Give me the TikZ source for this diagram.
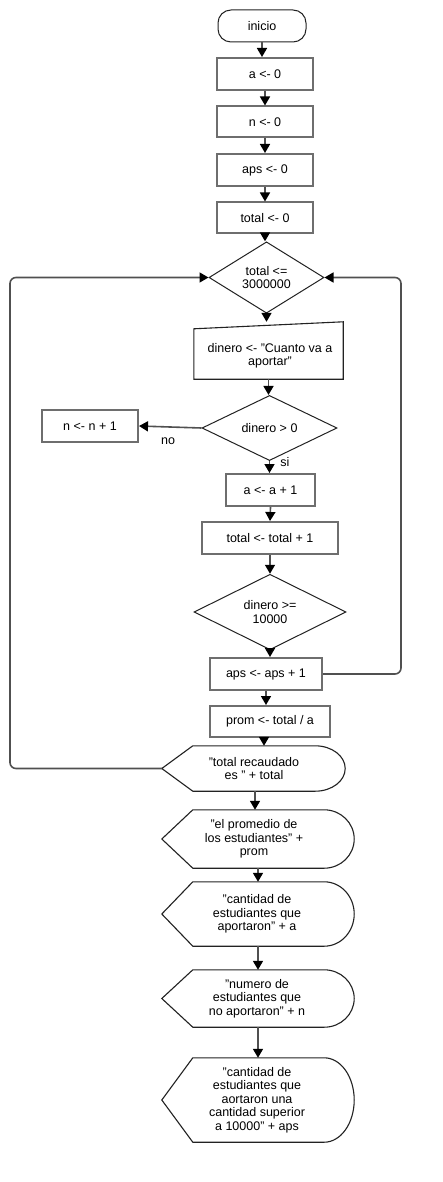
\documentclass[tikz,border=0pt]{standalone}
\usepackage{fontspec}
\setmainfont{Liberation Sans}
\usetikzlibrary{shapes.geometric,arrows.meta,calc}
\definecolor{boxgray}{HTML}{6E6E6E}
\definecolor{linegray}{HTML}{505050}
\definecolor{shapeline}{HTML}{222222}
\tikzset{
  txt/.style={font=\fontsize{12.5}{13.5}\selectfont, align=center, text=black},
  proc/.style={txt, rectangle, draw=boxgray, line width=2pt, inner sep=0pt},
  term/.style={txt, rectangle, rounded corners=13pt, draw=shapeline, line width=1pt, inner sep=0pt},
  dec/.style={txt, diamond, draw=shapeline, line width=1pt, inner sep=0pt},
  free/.style={txt, rectangle, draw=none, inner sep=0pt},
  shp/.style={draw=shapeline, line width=1.1pt},
  flow/.style={draw=linegray, line width=1.6pt, -{Triangle[length=9pt,width=10pt,color=black]}},
  loopline/.style={flow, rounded corners=6pt},
  lbl/.style={font=\fontsize{12.5}{13.5}\selectfont, text=black, inner sep=0pt}
}
\newcommand{\dispshape}[1]{%
  \draw[shp] (#1.west) -- ([xshift=31pt]#1.north west) -- ([xshift=-30pt]#1.north east)
    .. controls ([xshift=-13.4pt]#1.north east) and ($(#1.east)!0.552!(#1.north east)$) .. (#1.east)
    .. controls ($(#1.east)!0.552!(#1.south east)$) and ([xshift=-13.4pt]#1.south east) .. ([xshift=-30pt]#1.south east)
    -- ([xshift=31pt]#1.south west) -- cycle;}
\begin{document}
\begin{tikzpicture}[x=1pt,y=-1pt]
\useasboundingbox[fill=white] (0,0) rectangle (443,1182);
% initial sequence
\node[term, minimum width=88pt, minimum height=32pt] (inicio) at (262,26) {inicio};
\node[proc, minimum width=96pt, minimum height=32pt] (a0) at (265,74) {a <- 0};
\node[proc, minimum width=96pt, minimum height=31pt] (n0) at (265,122) {n <- 0};
\node[proc, minimum width=96pt, minimum height=32pt] (aps0) at (265,170) {aps <- 0};
\node[proc, minimum width=96pt, minimum height=31pt] (tot0) at (265,218) {total <- 0};
% loop
\node[dec, minimum width=115pt, minimum height=55pt] (d1) at (266.5,277.5) {total <=\\3000000};
\node[free, minimum width=149pt, minimum height=57pt] (in1) at (268.5,350.5) {};
\draw[shp] ([yshift=-7pt]in1.north west) -- (in1.north east) -- (in1.south east) -- (in1.south west) -- cycle;
\node[txt] at (270,356) {dinero <- "Cuanto va a\\aportar"};
\node[dec, minimum width=135pt, minimum height=50pt] (d2) at (269.5,428) {dinero > 0};
\node[proc, minimum width=96pt, minimum height=32pt] (nn) at (90,426) {n <- n + 1};
\node[proc, minimum width=89pt, minimum height=32pt] (aa) at (270.5,490) {a <- a + 1};
\node[proc, minimum width=136pt, minimum height=32pt] (tt) at (270,538) {total <- total + 1};
\node[dec, minimum width=152pt, minimum height=50pt] (d3) at (270,612) {dinero >=\\10000};
\node[proc, minimum width=112pt, minimum height=32pt] (aps1) at (266,674) {aps <- aps + 1};
\node[proc, minimum width=120pt, minimum height=31pt] (prom) at (270,721.5) {prom <- total / a};
% outputs
\node[free, minimum width=183pt, minimum height=45pt] (o1) at (253.5,768.5) {};
\dispshape{o1}
\node[txt] at (254,768.5) {"total recaudado\\es " + total};
\node[free, minimum width=192pt, minimum height=58pt] (o2) at (258,839) {};
\dispshape{o2}
\node[txt] at (254,839) {"el promedio de\\los estudiantes" +\\prom};
\node[free, minimum width=192pt, minimum height=64pt] (o3) at (258,914) {};
\dispshape{o3}
\node[txt] at (257,914) {"cantidad de\\estudiantes que\\aportaron" + a};
\node[free, minimum width=192pt, minimum height=57pt] (o4) at (258,998.5) {};
\dispshape{o4}
\node[txt] at (257,998.5) {"numero de\\estudiantes que\\no aportaron" + n};
\node[free, minimum width=192pt, minimum height=84pt] (o5) at (258,1100) {};
\dispshape{o5}
\node[txt] at (257,1100) {"cantidad de\\estudiantes que\\aortaron una\\cantidad superior\\a 10000" + aps};
% connectors
\draw[flow] (inicio.south) -- (inicio.south |- a0.north);
\draw[flow] (a0.south) -- (n0.north);
\draw[flow] (n0.south) -- (aps0.north);
\draw[flow] (aps0.south) -- (tot0.north);
\draw[flow] (tot0.south) -- (tot0.south |- d1.north);
\draw[flow] (d1.south) -- (d1.south |- in1.north);
\draw[flow] (in1.south) -- (in1.south |- d2.north);
\draw[flow] (d2.west) -- (nn.east);
\node[lbl] (nolbl) at (168,441) {no};
\draw[flow] (d2.south) -- (d2.south |- aa.north);
\node[lbl] (silbl) at (285,462) {si};
\draw[flow] (aa.south) -- (tt.north);
\draw[flow] (tt.south) -- (d3.north);
\draw[flow] (d3.south) -- (d3.south |- aps1.north);
\draw[flow] (aps1.south) -- (aps1.south |- prom.north);
\draw[flow] ([xshift=-6pt]prom.south) -- ([xshift=-6pt]prom.south |- o1.north);
\coordinate (lb) at (10,768.5);
\coordinate (lt) at (10,277.5);
\draw[loopline] (o1.west) -- (lb) -- (lt) -- (d1.west);
\coordinate (rb) at (401,674);
\coordinate (rt) at (401,277.5);
\draw[loopline] (aps1.east) -- (rb) -- (rt) -- (d1.east);
\coordinate (c1) at (255,791);
\draw[flow] (c1) -- (c1 |- o2.north);
\draw[flow] (o2.south) -- (o3.north);
\draw[flow] (o3.south) -- (o4.north);
\draw[flow] (o4.south) -- (o5.north);
\end{tikzpicture}
\end{document}
